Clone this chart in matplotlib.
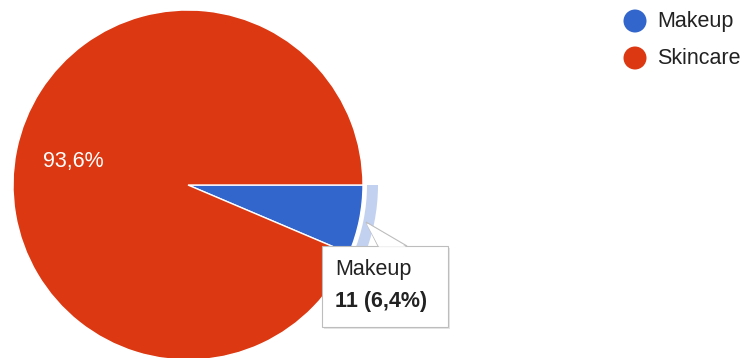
import matplotlib
matplotlib.use("Agg")
import matplotlib.pyplot as plt
from matplotlib.patches import Wedge, FancyBboxPatch, Polygon, Circle

labels = ["Makeup", "Skincare"]
counts = [11, 161]
colors = ["#3366cc", "#dc3912"]
highlight = "Makeup"

W, H = 754, 358
plt.rcParams["font.family"] = ["Liberation Sans", "DejaVu Sans"]

fig = plt.figure(figsize=(W / 100, H / 100), dpi=100)
ax = fig.add_axes([0, 0, 1, 1])

total = sum(counts)
cx, cy, R = 188, 185, 175


def pct_label(p):
    return f"{p:.1f}%".replace(".", ",") if p > 10 else ""


wedges, _, autotexts = ax.pie(
    counts, colors=colors, startangle=0, counterclock=True, center=(cx, cy),
    radius=R, autopct=pct_label, pctdistance=0.67,
    wedgeprops=dict(edgecolor="white", linewidth=1.0),
    textprops=dict(color="white", fontsize=15.5), frame=True)
ax.set_xlim(0, W)
ax.set_ylim(H, 0)
ax.set_aspect("equal")
ax.axis("off")

# hover ring around the highlighted slice
i = labels.index(highlight)
w = wedges[i]
ax.add_patch(Wedge((cx, cy), R + 15, w.theta1, w.theta2, width=11,
                   facecolor="#c3d1f0", edgecolor="none", zorder=3))

# tooltip
share = counts[i] / total * 100
bx, by, bw, bh = 322, 246, 126, 81
ax.add_patch(FancyBboxPatch((bx + 2, by + 2), bw, bh, boxstyle="square,pad=0",
                            facecolor="#e6e6e6", edgecolor="none", zorder=4))
ax.add_patch(Polygon([(378, by), (366, 222), (407, by)], closed=True,
                     facecolor="white", edgecolor="#bdbdbd", lw=0.8, zorder=5))
ax.add_patch(FancyBboxPatch((bx, by), bw, bh, boxstyle="square,pad=0",
                            facecolor="white", edgecolor="#bdbdbd", lw=0.8, zorder=5))
ax.add_patch(Polygon([(379, by + 0.8), (366.5, 223.5), (406, by + 0.8)], closed=True,
                     facecolor="white", edgecolor="none", zorder=6))
ax.text(bx + 13, 270, highlight, fontsize=15.5, color="#222222", va="center", zorder=7)
ax.text(bx + 13, 301, f"{counts[i]} ({share:.1f}%)".replace(".", ","), fontsize=15.5,
        fontweight="bold", color="#222222", va="center", zorder=7)

# legend
for k, (lab, col) in enumerate(zip(labels, colors)):
    y = 21 + 37 * k
    ax.add_patch(Circle((635, y), 11.5, facecolor=col, edgecolor="none"))
    ax.text(657, y, lab, fontsize=15.5, color="#222222", va="center")

fig.savefig("out.png", dpi=100)
